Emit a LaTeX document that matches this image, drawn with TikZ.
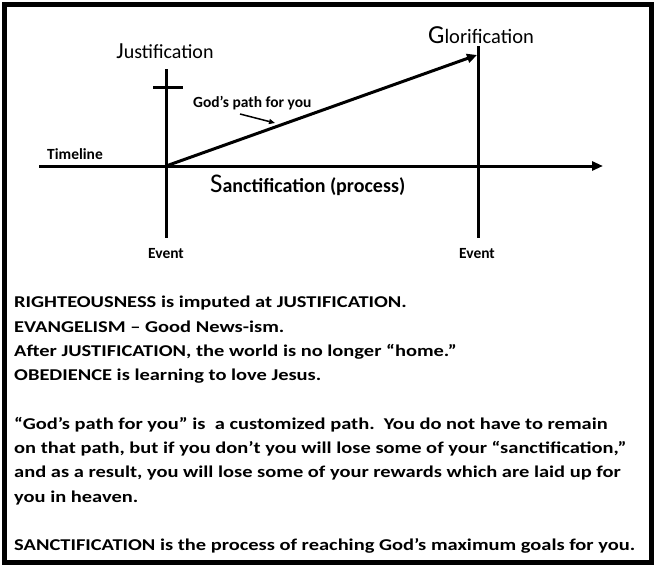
\documentclass[tikz,border=0pt]{standalone}
\usepackage{fontspec}
\setmainfont{Carlito}
\newfontfamily\notefont[FakeStretch=1.24]{Carlito}
\usetikzlibrary{arrows.meta}

\tikzset{
  axis/.style={line width=3pt},
  label/.style={font=\bfseries\fontsize{15.5}{17}\selectfont, inner sep=0pt},
  bodyline/.style={font=\notefont\bfseries\fontsize{16.5}{20}\selectfont, inner sep=0pt, anchor=base west}
}

\begin{document}
\begin{tikzpicture}[x=1pt,y=-1pt]
\useasboundingbox (0,0) rectangle (654,565);
\draw[line width=4.5pt] (4.5,4.5) rectangle (651.5,562.5);
% timeline and the two events
\coordinate (tlstart) at (39,166);
\coordinate (tlend) at (603,166);
\coordinate (jtop) at (166,69);
\coordinate (jbot) at (166,238);
\coordinate (gtop) at (478,46);
\coordinate (gbot) at (478,238);
\coordinate (jcross) at (166,166);
\coordinate (gend) at (477,55);
\draw[axis,-{Triangle[length=11pt,width=9pt]}] (tlstart) -- (tlend);
\draw[axis] (jtop) -- (jbot);
\draw[axis] (gtop) -- (gbot);
\draw[axis] (153,87) -- (183,87);
\draw[axis,-{Triangle[length=10pt,width=9pt]}] (jcross) -- (gend);
% labels
\node[inner sep=0pt,anchor=base] (just) at (165,58)
  {{\fontsize{23}{23}\selectfont J}{\fontsize{20}{20}\selectfont ustification}};
\node[inner sep=0pt,anchor=base] (glor) at (481,43)
  {{\fontsize{26}{26}\selectfont G}{\fontsize{20.5}{20.5}\selectfont lorification}};
\node[label,anchor=base west] (tl) at (47,159) {Timeline};
\node[label,anchor=base] (ev1) at (166,258) {Event};
\node[label,anchor=base] (ev2) at (477,258) {Event};
\node[label,anchor=base west] (path) at (193,107) {God’s path for you};
\coordinate (ptip) at (275,123);
\draw[line width=1.5pt,-{Triangle[length=6pt,width=5pt]}] (240,114) -- (ptip);
\node[inner sep=0pt,anchor=base west] (sanct) at (210,192)
  {{\fontsize{27}{27}\selectfont S}{\bfseries\fontsize{20}{20}\selectfont anctification (process)}};
% notes
\foreach \n/\y/\txt in {
  1/307/{RIGHTEOUSNESS is imputed at JUSTIFICATION.},
  2/332/{EVANGELISM – Good News-ism.},
  3/356/{After JUSTIFICATION, the world is no longer “home.”},
  4/380/{OBEDIENCE is learning to love Jesus.},
  5/429/{“God’s path for you”  is\ \ a customized path.\ \ You do not have to remain},
  6/453/{on that path, but if you don’t you will lose some of your “sanctification,”},
  7/477/{and as a result, you will lose some of your rewards which are laid up for},
  8/502/{you in heaven.},
  9/550/{SANCTIFICATION is the process of reaching God’s maximum goals for you.}}
  \node[bodyline] (note\n) at (14,\y) {\txt};
\end{tikzpicture}
\end{document}
